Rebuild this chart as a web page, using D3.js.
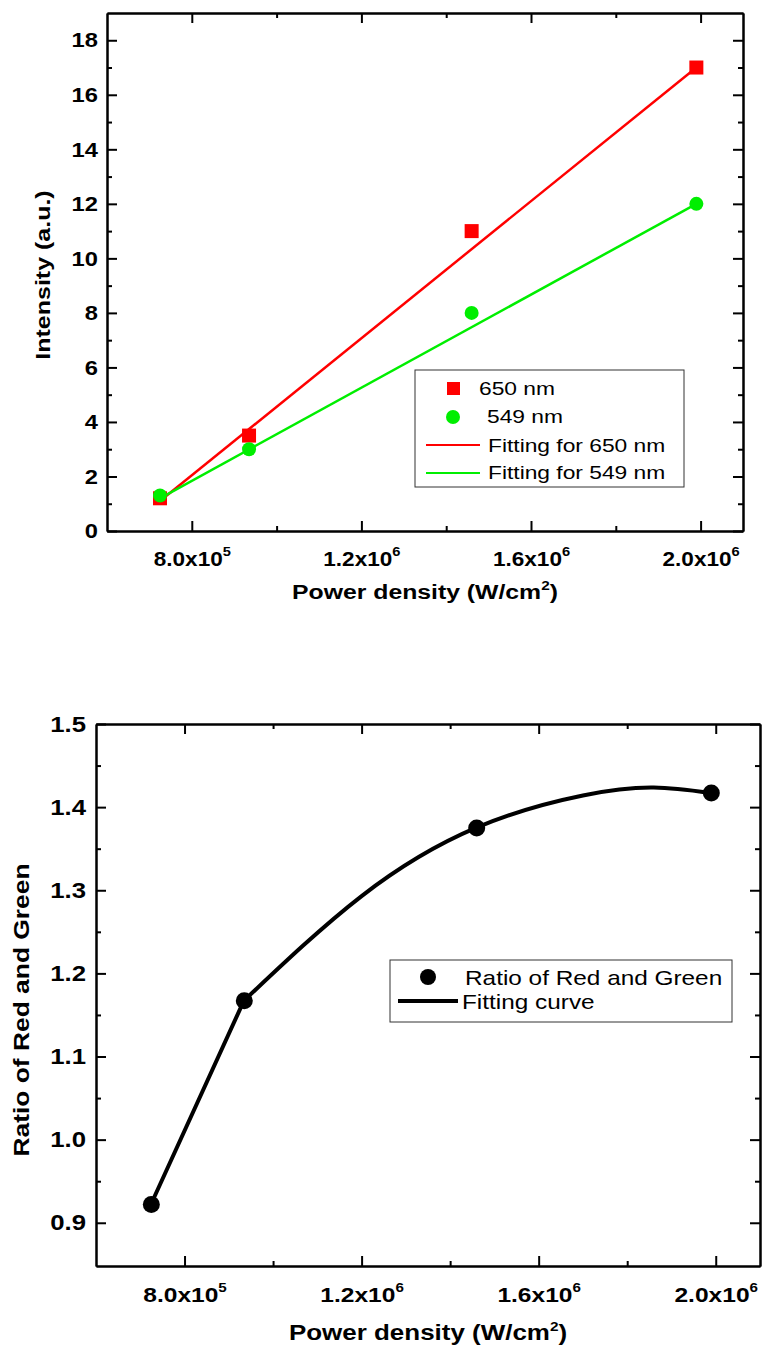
<!DOCTYPE html>
<html>
<head>
<meta charset="utf-8">
<script src="https://cdnjs.cloudflare.com/ajax/libs/d3/7.8.5/d3.min.js"></script>
<style>
  body { margin: 0; background: #fff; }
  svg text { font-family: "Liberation Sans", Arial, sans-serif; fill: #000; }
  .domain { stroke: #000; stroke-width: 2; }
  .tick line { stroke: #000; stroke-width: 2; }
</style>
</head>
<body>
<svg id="chart" width="763" height="1349"></svg>
<script>
// power density (W/cm2), shared by both panels
var power = [7.25e5, 9.35e5, 1.46e6, 1.99e6];
// intensities
var red650 = [1.2, 3.5, 11, 17];
var green549 = [1.3, 3.0, 8.0, 12.0];
// linear fit end values (at first and last power)
var fit650 = [1.1, 17.0];
var fit549 = [1.2, 12.0];
// ratio red/green
var ratio = [0.922, 1.167, 1.375, 1.417];
// fitting curve (straight first leg, then smooth)
var fitX = [7.24e5, 9.34e5, 1.2e6, 1.458e6, 1.7e6, 1.86e6, 1.987e6];
var fitY = [0.922, 1.167, 1.293, 1.375, 1.414, 1.4235, 1.417];

var xMajor = [8e5, 1.2e6, 1.6e6, 2.0e6];
var xMinor = [1.0e6, 1.4e6, 1.8e6];
var yMajorTop = [0, 2, 4, 6, 8, 10, 12, 14, 16, 18];
var yMinorTop = [1, 3, 5, 7, 9, 11, 13, 15, 17];
var yMajorBot = [0.9, 1.0, 1.1, 1.2, 1.3, 1.4, 1.5];
var yMinorBot = [0.95, 1.05, 1.15, 1.25, 1.35, 1.45];

var svg = d3.select("#chart");

// the source figure is a bit wider than tall, so text is stretched sideways
function stretch(sel, s) {
  sel.each(function() {
    var t = d3.select(this);
    var x = +t.attr("x") || 0, y = +t.attr("y") || 0;
    var prev = t.attr("transform") || "";
    t.attr("x", 0).attr("y", 0)
      .attr("transform", prev + " translate(" + x + "," + y + ") scale(" + s + ",1)");
  });
}

function sciLabel(sel) {
  sel.each(function(d) {
    var t = d3.select(this);
    var e = Math.floor(Math.log10(d) + 1e-9);
    var m = (d / Math.pow(10, e)).toFixed(1);
    t.text(null);
    t.append("tspan").text(m + "x10");
    t.append("tspan").attr("dy", -10).style("font-size", "13px").text(e);
  });
}

function frame(g, x, y, w, h, o) {
  g.append("g").attr("transform", "translate(0," + h + ")")
    .call(d3.axisBottom(x).tickValues(xMajor).tickSize(-10).tickSizeOuter(0).tickPadding(o.xPad))
    .call(function(a) {
      a.selectAll("text").style("font-size", o.fs + "px").style("font-weight", "bold")
        .call(sciLabel).call(stretch, o.sx);
    });
  g.append("g").attr("transform", "translate(0," + h + ")")
    .call(d3.axisBottom(x).tickValues(xMinor).tickSize(-5).tickSizeOuter(0).tickFormat(""));
  g.append("g").call(d3.axisTop(x).tickValues(xMajor).tickSize(-10).tickSizeOuter(0).tickFormat(""));
  g.append("g").call(d3.axisTop(x).tickValues(xMinor).tickSize(-5).tickSizeOuter(0).tickFormat(""));
  g.append("g")
    .call(d3.axisLeft(y).tickValues(o.yMaj).tickSize(-10).tickSizeOuter(0).tickPadding(o.yPad).tickFormat(o.yFmt))
    .call(function(a) {
      a.selectAll("text").style("font-size", (o.fs + 1) + "px").style("font-weight", "bold")
        .call(stretch, o.sx);
    });
  g.append("g").call(d3.axisLeft(y).tickValues(o.yMin).tickSize(-5).tickSizeOuter(0).tickFormat(""));
  g.append("g").attr("transform", "translate(" + w + ",0)")
    .call(d3.axisRight(y).tickValues(o.yMaj).tickSize(-10).tickSizeOuter(0).tickFormat(""));
  g.append("g").attr("transform", "translate(" + w + ",0)")
    .call(d3.axisRight(y).tickValues(o.yMin).tickSize(-5).tickSizeOuter(0).tickFormat(""));
}

function xTitle(g, w, yPos, fs) {
  var t = g.append("text").attr("x", w / 2).attr("y", yPos).attr("text-anchor", "middle")
    .style("font-size", fs + "px").style("font-weight", "bold");
  t.append("tspan").text("Power density (W/cm");
  t.append("tspan").attr("dy", -9).style("font-size", "13px").text("2");
  t.append("tspan").attr("dy", 9).text(")");
  t.call(stretch, 1.18);
}

// ---------- top panel ----------
(function() {
  var m = {left: 107, top: 13};
  var w = 743 - 107, h = 531 - 13;
  var g = svg.append("g").attr("transform", "translate(" + m.left + "," + m.top + ")");
  var x = d3.scaleLinear().domain([6e5, 2.1e6]).range([0, w]);
  var y = d3.scaleLinear().domain([0, 19]).range([h, 0]);

  frame(g, x, y, w, h, {yMaj: yMajorTop, yMin: yMinorTop, yFmt: d3.format("d"),
    fs: 20, sx: 1.13, xPad: 21, yPad: 9});

  var line = d3.line().x(function(d) { return x(d[0]); }).y(function(d) { return y(d[1]); });
  var xEnds = [power[0], power[power.length - 1]];
  g.append("path").datum(d3.zip(xEnds, fit650)).attr("d", line)
    .attr("fill", "none").attr("stroke", "#ff0000").attr("stroke-width", 2.5);
  g.append("path").datum(d3.zip(xEnds, fit549)).attr("d", line)
    .attr("fill", "none").attr("stroke", "#00ee00").attr("stroke-width", 2.5);

  g.selectAll(".sq").data(d3.zip(power, red650)).enter().append("rect")
    .attr("x", function(d) { return x(d[0]) - 7; })
    .attr("y", function(d) { return y(d[1]) - 7; })
    .attr("width", 14).attr("height", 14).attr("fill", "#ff0000");
  g.selectAll(".ci").data(d3.zip(power, green549)).enter().append("circle")
    .attr("cx", function(d) { return x(d[0]); })
    .attr("cy", function(d) { return y(d[1]); })
    .attr("r", 7).attr("fill", "#00ee00");

  // legend
  var lg = svg.append("g").attr("transform", "translate(415,370)");
  lg.append("rect").attr("width", 269).attr("height", 117).attr("fill", "#fff")
    .attr("stroke", "#333").attr("stroke-width", 1);
  lg.append("rect").attr("x", 32).attr("y", 12).attr("width", 13).attr("height", 13).attr("fill", "#ff0000");
  lg.append("circle").attr("cx", 38).attr("cy", 47).attr("r", 7).attr("fill", "#00ee00");
  lg.append("line").attr("x1", 11).attr("x2", 65).attr("y1", 75).attr("y2", 75).attr("stroke", "#ff0000").attr("stroke-width", 2);
  lg.append("line").attr("x1", 11).attr("x2", 65).attr("y1", 103).attr("y2", 103).attr("stroke", "#00ee00").attr("stroke-width", 2);
  var lt = [["650 nm", 64, 25], ["549 nm", 72, 53], ["Fitting for 650 nm", 73, 82], ["Fitting for 549 nm", 73, 109]];
  lg.selectAll(".lt").data(lt).enter().append("text")
    .attr("x", function(d) { return d[1]; }).attr("y", function(d) { return d[2]; })
    .style("font-size", "19px").text(function(d) { return d[0]; })
    .call(stretch, 1.2);

  xTitle(g, w, 586, 21);
  g.append("text").attr("transform", "translate(-57," + (275 - m.top) + ") rotate(-90)")
    .attr("text-anchor", "middle").style("font-size", "21px").style("font-weight", "bold")
    .text("Intensity (a.u.)").call(stretch, 1.19);
})();

// ---------- bottom panel ----------
(function() {
  var m = {left: 96, top: 724};
  var w = 760 - 96, h = 1266 - 724;
  var g = svg.append("g").attr("transform", "translate(" + m.left + "," + m.top + ")");
  var x = d3.scaleLinear().domain([6e5, 2.1e6]).range([0, w]);
  var y = d3.scaleLinear().domain([0.848, 1.5]).range([h, 0]);

  frame(g, x, y, w, h, {yMaj: yMajorBot, yMin: yMinorBot, yFmt: d3.format(".1f"),
    fs: 21, sx: 1.17, xPad: 21, yPad: 10});

  var fit = d3.zip(fitX, fitY);
  var lin = d3.line().x(function(d) { return x(d[0]); }).y(function(d) { return y(d[1]); });
  var smooth = d3.line().curve(d3.curveNatural)
    .x(function(d) { return x(d[0]); }).y(function(d) { return y(d[1]); });
  g.append("path").datum(fit.slice(0, 2)).attr("d", lin)
    .attr("fill", "none").attr("stroke", "#000").attr("stroke-width", 4).attr("stroke-linecap", "round");
  g.append("path").datum(fit.slice(1)).attr("d", smooth)
    .attr("fill", "none").attr("stroke", "#000").attr("stroke-width", 4).attr("stroke-linecap", "round");

  g.selectAll(".pt").data(d3.zip(power, ratio)).enter().append("circle")
    .attr("cx", function(d) { return x(d[0]); })
    .attr("cy", function(d) { return y(d[1]); })
    .attr("r", 8.5).attr("fill", "#000");

  var lg = svg.append("g").attr("transform", "translate(390,960)");
  lg.append("rect").attr("width", 342).attr("height", 62).attr("fill", "#fff")
    .attr("stroke", "#333").attr("stroke-width", 1);
  lg.append("circle").attr("cx", 38).attr("cy", 17).attr("r", 8).attr("fill", "#000");
  lg.append("line").attr("x1", 8).attr("x2", 68).attr("y1", 41).attr("y2", 41).attr("stroke", "#000").attr("stroke-width", 4);
  lg.append("text").attr("x", 75).attr("y", 25).style("font-size", "21px").text("Ratio of Red and Green").call(stretch, 1.16);
  lg.append("text").attr("x", 72).attr("y", 49).style("font-size", "21px").text("Fitting curve").call(stretch, 1.16);

  xTitle(g, w, 616, 22);
  g.append("text").attr("transform", "translate(-67," + (1010 - m.top) + ") rotate(-90)")
    .attr("text-anchor", "middle").style("font-size", "22px").style("font-weight", "bold")
    .text("Ratio of Red and Green").call(stretch, 1.2);
})();
</script>
</body>
</html>
